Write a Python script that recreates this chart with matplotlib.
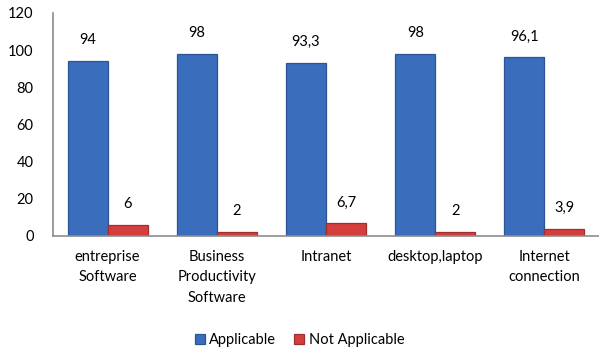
import numpy as np
import matplotlib.pyplot as plt

plt.rcParams['font.family'] = ['Lato', 'DejaVu Sans']

categories = ['entreprise\nSoftware', 'Business\nProductivity\nSoftware', 'Intranet',
              'desktop,laptop', 'Internet\nconnection']
applicable = [94, 98, 93.3, 98, 96.1]
not_applicable = [6, 2, 6.7, 2, 3.9]
app_labels = ['94', '98', '93,3', '98', '96,1']
notapp_labels = ['6', '2', '6,7', '2', '3,9']

fig = plt.figure(figsize=(5.99, 3.51), dpi=100)
ax = fig.add_axes([0.0885, 0.328, 0.9115, 0.635])

x = np.arange(len(categories))
w = 0.366
b1 = ax.bar(x - w / 2, applicable, w, color='#3A6DBB', edgecolor='#2B5596', linewidth=0.9,
            label='Applicable')
b2 = ax.bar(x + w / 2, not_applicable, w, color='#D43F3E', edgecolor='#9E2F2E', linewidth=0.9,
            label='Not Applicable')
ax.bar_label(b1, labels=app_labels, padding=10, fontsize=10.5)
ax.bar_label(b2, labels=notapp_labels, padding=10, fontsize=10.5)

ax.set_xlim(-0.5, len(categories) - 0.5)
ax.set_ylim(0, 120)
ax.set_yticks(range(0, 121, 20))
ax.set_xticks(x)
ax.set_xticklabels(categories, fontsize=10.5, va='top', linespacing=1.6)
ax.tick_params(axis='both', length=0, labelsize=10.5)
ax.tick_params(axis='x', pad=10)
ax.tick_params(axis='y', pad=14)
for s in ['top', 'right']:
    ax.spines[s].set_visible(False)
for s in ['left', 'bottom']:
    ax.spines[s].set_color('#8C8C8C')
    ax.spines[s].set_linewidth(1.2)

fig.legend(handles=[b1, b2], loc='center', bbox_to_anchor=(0.5, 0.03), ncol=2, frameon=False,
           fontsize=10.5, handlelength=0.7, handleheight=0.7, handletextpad=0.3, columnspacing=1.2)

fig.savefig('out.png', dpi=100)
